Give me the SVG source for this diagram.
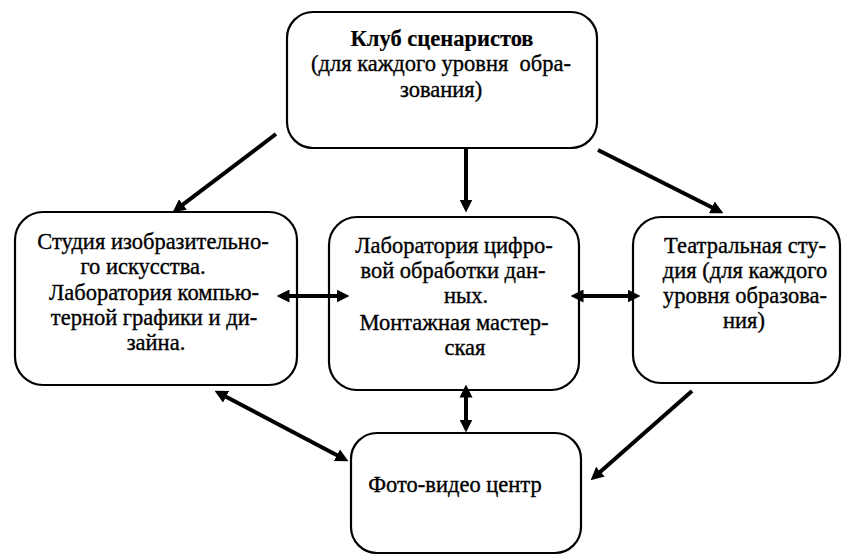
<svg xmlns="http://www.w3.org/2000/svg" width="844" height="556" viewBox="0 0 844 556">
<style>
.box{fill:#fff;stroke:#000;stroke-width:2.2}
.t{font-family:"Liberation Serif","Times New Roman",serif;font-size:22.5px;fill:#000;stroke:#000;stroke-width:0.35;text-anchor:middle}
.b{font-weight:bold;stroke-width:0.2}
.c{stroke:#000;stroke-width:4;fill:none}
</style>
<defs>
<marker id="ah" markerUnits="userSpaceOnUse" markerWidth="13" markerHeight="13" refX="6" refY="6" orient="auto-start-reverse" viewBox="0 0 12 12">
<path d="M0,0 L12,6 L0,12 z" fill="#000"/>
</marker>
</defs>
<rect width="844" height="556" fill="#fff"/>
<g id="club">
<rect class="box" x="287" y="12" width="310" height="136" rx="26"/>
<text class="t b" x="442" y="46">Клуб сценаристов</text>
<text class="t" x="441" y="71" xml:space="preserve" style="white-space:pre">(для каждого уровня  обра-</text>
<text class="t" x="441" y="97">зования)</text>
</g>
<g id="studio">
<rect class="box" x="15" y="212" width="282" height="173" rx="28"/>
<text class="t" x="153" y="249">Студия изобразительно-</text>
<text class="t" x="143" y="274">го искусства.</text>
<text class="t" x="154" y="300">Лаборатория компью-</text>
<text class="t" x="154" y="325">терной графики и ди-</text>
<text class="t" x="156" y="350">зайна.</text>
</g>
<g id="lab">
<rect class="box" x="329" y="217" width="250" height="173" rx="28"/>
<text class="t" x="454" y="253">Лаборатория цифро-</text>
<text class="t" x="453" y="278">вой обработки дан-</text>
<text class="t" x="466" y="303">ных.</text>
<text class="t" x="454" y="330">Монтажная мастер-</text>
<text class="t" x="465" y="355">ская</text>
</g>
<g id="theatre">
<rect class="box" x="633" y="217" width="207" height="166" rx="28"/>
<text class="t" x="745" y="253">Театральная сту-</text>
<text class="t" x="745" y="278">дия (для каждого</text>
<text class="t" x="745" y="303">уровня образова-</text>
<text class="t" x="744" y="328">ния)</text>
</g>
<g id="photo">
<rect class="box" x="351" y="433" width="230" height="120" rx="26"/>
<text class="t" x="455" y="492">Фото-видео центр</text>
</g>
<g id="connectors">
<line class="c" x1="276" y1="134" x2="177.8" y2="208.4" marker-end="url(#ah)"/>
<line class="c" x1="466" y1="148" x2="466" y2="206" marker-end="url(#ah)"/>
<line class="c" x1="598" y1="150" x2="717.6" y2="210.3" marker-end="url(#ah)"/>
<line class="c" x1="283" y1="296" x2="343" y2="296" marker-start="url(#ah)" marker-end="url(#ah)"/>
<line class="c" x1="577" y1="296" x2="634" y2="296" marker-start="url(#ah)" marker-end="url(#ah)"/>
<line class="c" x1="466" y1="391" x2="466" y2="426" marker-start="url(#ah)" marker-end="url(#ah)"/>
<line class="c" x1="220.3" y1="393.8" x2="342.7" y2="458.2" marker-start="url(#ah)" marker-end="url(#ah)"/>
<line class="c" x1="692" y1="391" x2="595.5" y2="476" marker-end="url(#ah)"/>
</g>
</svg>
